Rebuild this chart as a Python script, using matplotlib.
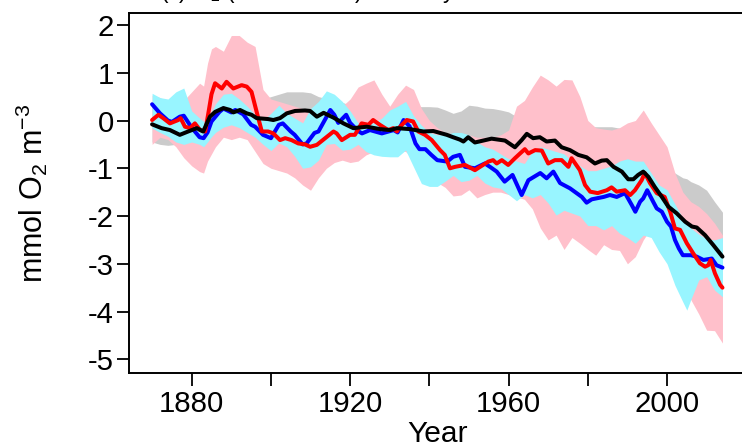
import matplotlib
matplotlib.use("Agg")
import matplotlib.pyplot as plt
import numpy as np

plt.rcParams['font.family'] = ['Liberation Sans', 'DejaVu Sans']
plt.rcParams['mathtext.fontset'] = 'custom'
plt.rcParams['mathtext.rm'] = 'Liberation Sans'
plt.rcParams['mathtext.it'] = 'Liberation Sans:italic'
plt.rcParams['mathtext.bf'] = 'Liberation Sans:bold'

# ---------------- data ----------------
blue_years = [1870, 1872, 1874, 1875, 1877, 1878, 1880, 1882, 1883, 1884, 1885, 1887, 1888, 1890, 1891,
              1893, 1895, 1896, 1898, 1900, 1902, 1903, 1905, 1906, 1908, 1909, 1911, 1912, 1915, 1916,
              1917, 1919, 1920, 1922, 1923, 1925, 1928, 1931, 1932, 1933.5, 1935, 1936.5, 1937.5, 1939,
              1940.5, 1942, 1944.5, 1946, 1947.7, 1949, 1951.5, 1954, 1955.3, 1957, 1959, 1961, 1963.3,
              1965, 1968, 1969.6, 1971.3, 1973, 1975.5, 1978.5, 1979.7, 1981, 1984, 1985.6, 1987.3,
              1989.4, 1991.1, 1992, 1993.2, 1994, 1995, 1996.5, 1997.4, 1998.7, 2000, 2001, 2002, 2003,
              2004, 2006, 2007.5, 2009.2, 2011.3, 2012.5, 2014]
blue_vals = [0.34, 0.15, 0.0, -0.03, 0.08, 0.10, -0.15, -0.35, -0.37, -0.25, -0.02, 0.18, 0.25, 0.17, 0.22,
             0.13, -0.09, -0.13, -0.30, -0.37, -0.09, -0.06, -0.23, -0.30, -0.50, -0.48, -0.26, -0.23, 0.22, 0.12,
             -0.05, 0.12, -0.05, -0.22, -0.27, -0.20, -0.27, -0.20, -0.25, 0.01, -0.12, -0.48, -0.60, -0.60,
             -0.72, -0.83, -0.86, -0.76, -0.72, -0.97, -1.00, -0.90, -0.97, -1.07, -1.28, -1.14, -1.56,
             -1.25, -1.10, -1.21, -1.07, -1.31, -1.42, -1.60, -1.72, -1.65, -1.60, -1.56, -1.60,
             -1.52, -1.77, -1.91, -1.70, -1.63, -1.46, -1.70, -1.84, -1.91, -2.12, -2.22, -2.50, -2.68,
             -2.82, -2.82, -2.85, -2.92, -2.89, -3.03, -3.08]

red_years = [1870, 1871.6, 1872.8, 1874.5, 1876.6, 1877.2, 1878.3, 1879.6, 1880.8, 1882.1, 1883.4, 1884.3,
             1885, 1885.9, 1887.6, 1888.8, 1890.5, 1892.6, 1893.9, 1895.1, 1896.4, 1897.7, 1899.3, 1900.6,
             1902.3, 1903.6, 1905.2, 1906.9, 1908.6, 1909.9, 1911.6, 1913.7, 1915.8, 1916.6, 1917.9, 1920,
             1921.2, 1922.9, 1924.6, 1925.8, 1927.5, 1929.6, 1930.9, 1931.8, 1932.6, 1934.3, 1935.9, 1937.2,
             1938.9, 1940.6, 1942.7, 1943.9, 1945.2, 1946.5, 1949, 1951.5, 1952.8, 1954.9, 1956.1, 1957,
             1958.3, 1959.9, 1961.6, 1962.9, 1964.1, 1965, 1966.7, 1968.4, 1970, 1971.7, 1973.4, 1975.1,
             1975.9, 1978, 1979.3, 1980.6, 1982.5, 1984.8, 1986, 1987.3, 1989.4, 1990.7, 1991.9, 1993.6,
             1994.4, 1995.7, 1997.4, 1999.4, 2000.8, 2002, 2003.3, 2005, 2006.6, 2008.3, 2009.6, 2010.4,
             2011, 2012.1, 2013.4, 2014]
red_vals = [0.01, 0.12, 0.05, -0.06, 0.01, 0.05, -0.13, -0.16, -0.06, -0.20, -0.23, 0.20,
            0.55, 0.78, 0.67, 0.81, 0.67, 0.74, 0.71, 0.60, 0.18, -0.23, -0.23, -0.27,
            -0.41, -0.37, -0.41, -0.48, -0.50, -0.55, -0.51, -0.37, -0.23, -0.27, -0.41, -0.30,
            -0.30, -0.06, -0.09, 0.01, -0.09, -0.20, -0.16, -0.23, -0.13, 0.01, -0.02, -0.23,
            -0.30, -0.41, -0.62, -0.72, -1.00, -0.97, -0.93, -1.04, -0.97, -0.86, -0.83, -0.90,
            -0.83, -0.93, -0.79, -0.69, -0.60, -0.69, -0.62, -0.63, -0.90, -0.83, -0.83, -0.97,
            -0.79, -1.04, -1.35, -1.49, -1.52, -1.46, -1.40, -1.49, -1.46, -1.56, -1.46, -1.25,
            -1.10, -1.31, -1.52, -1.60, -1.91, -2.26, -2.29, -2.57, -2.78, -2.99, -3.06, -3.03,
            -2.92, -3.20, -3.44, -3.50]

black_years = [1870, 1872.4, 1874.5, 1877, 1879.1, 1881.3, 1882.9, 1884.6, 1885.9, 1888, 1889.7, 1890.5,
               1892.2, 1893.9, 1895.1, 1896.4, 1899.3, 1900.6, 1902.3, 1904, 1906.1, 1908.6, 1909.9, 1911.6,
               1913.3, 1915.8, 1918.3, 1920.8, 1924.2, 1927.5, 1930.1, 1931.8, 1935.1, 1938.5, 1941, 1944.4,
               1946, 1947.7, 1948.6, 1949.8, 1951.5, 1953.6, 1955.7, 1959.1, 1961.6, 1963.3, 1964.6, 1966.2,
               1967.9, 1969.6, 1971.7, 1973.4, 1975.5, 1977.6, 1979.7, 1981.8, 1983.5, 1984.8, 1986.5, 1988.6,
               1990.2, 1991.5, 1992.7, 1994, 1995.3, 1996.9, 1998.7, 2000.3, 2002.4, 2004.6, 2006.3, 2007.5,
               2009.6, 2011.7, 2014]
black_vals = [-0.08, -0.16, -0.20, -0.30, -0.23, -0.16, -0.23, 0.08, 0.18, 0.26, 0.22, 0.17,
              0.22, 0.15, 0.12, 0.05, 0.03, 0.01, 0.05, 0.15, 0.20, 0.21, 0.20, 0.08,
              0.16, 0.06, -0.06, -0.16, -0.13, -0.18, -0.20, -0.16, -0.18, -0.23, -0.22, -0.30,
              -0.35, -0.40, -0.44, -0.35, -0.46, -0.42, -0.38, -0.42, -0.56, -0.41, -0.28, -0.37,
              -0.35, -0.44, -0.42, -0.56, -0.62, -0.72, -0.77, -0.90, -0.84, -0.83, -0.97, -1.07,
              -1.23, -1.23, -1.14, -1.07, -1.18, -1.39, -1.60, -1.80, -1.94, -2.12, -2.22, -2.24,
              -2.40, -2.61, -2.85]

band_years = [1870, 1872, 1874, 1876, 1878, 1880, 1882, 1883, 1884, 1885, 1886, 1888, 1890, 1892, 1894,
              1896, 1898, 1900, 1902, 1904, 1906, 1908, 1910, 1912, 1914, 1916, 1918, 1920, 1922, 1924,
              1926, 1928, 1930, 1932, 1934, 1936, 1938, 1940, 1942, 1944, 1946, 1948, 1950, 1952, 1954,
              1956, 1958, 1960, 1962, 1964, 1966, 1968, 1970, 1972, 1974, 1976, 1978, 1980, 1982, 1984,
              1986, 1988, 1990, 1992, 1994, 1996, 1998, 2000, 2002, 2004, 2005, 2006, 2008, 2010, 2012, 2014]

pink_hi = [0.53, 0.48, 0.38, 0.30, 0.42, 0.60, 0.78, 0.72, 1.20, 1.50, 1.55, 1.45, 1.78, 1.78, 1.64,
           1.55, 0.65, 0.45, 0.40, 0.35, 0.30, 0.25, 0.25, 0.30, 0.35, 0.35, 0.30, 0.45, 0.70, 0.78,
           0.85, 0.55, 0.30, 0.55, 0.74, 0.65, 0.25, 0.00, -0.15, -0.25, -0.30, -0.30, -0.30, -0.35, -0.35,
           -0.35, -0.30, -0.20, 0.30, 0.42, 0.70, 0.95, 0.85, 0.72, 0.86, 0.85, 0.50, 0.00, -0.15, -0.18,
           -0.20, -0.15, -0.05, 0.00, 0.22, -0.05, -0.30, -0.55, -1.10, -1.50, -1.60, -1.70, -1.80, -1.95, -2.15, -2.40]
pink_lo = [-0.50, -0.35, -0.40, -0.55, -0.78, -0.95, -1.07, -1.10, -0.85, -0.70, -0.55, -0.35, -0.40, -0.35, -0.40,
           -0.65, -0.90, -1.00, -1.05, -1.10, -1.20, -1.35, -1.46, -1.20, -1.00, -0.88, -0.83, -0.88, -0.85, -0.72,
           -0.65, -0.60, -0.55, -0.62, -0.65, -0.80, -1.00, -1.20, -1.30, -1.40, -1.58, -1.56, -1.45, -1.62, -1.55,
           -1.50, -1.50, -1.55, -1.60, -1.65, -1.85, -2.25, -2.50, -2.40, -2.70, -2.45, -2.57, -2.70, -2.82, -2.60,
           -2.70, -2.72, -3.00, -2.85, -2.50, -2.25, -2.60, -2.90, -3.40, -3.50, -3.60, -3.75, -4.05, -4.39, -4.40, -4.66]

cyan_hi = [0.57, 0.48, 0.45, 0.60, 0.68, 0.20, 0.05, -0.02, 0.05, 0.18, 0.35, 0.55, 0.57, 0.45, 0.30,
           0.12, 0.00, 0.15, 0.32, 0.15, 0.05, -0.05, 0.25, 0.40, 0.62, 0.55, 0.40, 0.20, -0.05, -0.05,
           -0.05, 0.05, 0.22, 0.30, 0.40, 0.10, -0.10, -0.25, -0.30, -0.30, -0.25, -0.25, -0.30, -0.45, -0.55,
           -0.60, -0.70, -0.80, -0.85, -0.90, -0.65, -0.55, -0.60, -0.65, -0.70, -0.85, -0.95, -1.05, -1.05, -1.00,
           -0.95, -0.85, -0.80, -0.85, -0.85, -1.10, -1.35, -1.45, -1.75, -2.05, -2.15, -2.25, -2.38, -2.48, -2.50, -2.45]
cyan_lo = [-0.16, -0.25, -0.33, -0.45, -0.50, -0.45, -0.50, -0.55, -0.45, -0.34, -0.25, -0.14, -0.09, -0.15, -0.25,
           -0.35, -0.50, -0.63, -0.47, -0.55, -0.75, -1.00, -0.97, -0.83, -0.50, -0.48, -0.62, -0.60, -0.50, -0.65,
           -0.72, -0.75, -0.76, -0.76, -0.62, -0.97, -1.32, -1.38, -1.38, -1.27, -1.15, -1.28, -1.25, -1.15, -1.31,
           -1.39, -1.42, -1.55, -1.68, -1.55, -1.62, -1.55, -1.73, -1.98, -1.88, -1.94, -2.00, -2.20, -2.20, -2.29,
           -2.20, -2.36, -2.45, -2.57, -2.40, -2.45, -2.75, -3.00, -3.45, -3.80, -3.97, -3.75, -3.34, -3.27, -3.55, -3.69]

gray_hi = [0.30, 0.25, 0.20, 0.15, 0.15, 0.20, 0.20, 0.20, 0.40, 0.50, 0.55, 0.60, 0.60, 0.60, 0.55,
           0.50, 0.45, 0.50, 0.55, 0.60, 0.60, 0.60, 0.58, 0.50, 0.46, 0.43, 0.38, 0.32, 0.30, 0.30,
           0.30, 0.28, 0.28, 0.30, 0.30, 0.30, 0.29, 0.29, 0.28, 0.22, 0.15, 0.20, 0.32, 0.30, 0.26,
           0.25, 0.22, 0.18, 0.08, 0.00, -0.05, -0.05, -0.05, -0.05, -0.10, -0.10, -0.12, -0.13, -0.13, -0.13,
           -0.13, -0.16, -0.30, -0.40, -0.50, -0.60, -0.80, -0.98, -1.10, -1.20, -1.22, -1.28, -1.35, -1.46, -1.70, -1.92]
gray_lo = [-0.45, -0.50, -0.52, -0.50, -0.45, -0.50, -0.50, -0.50, -0.30, -0.20, -0.15, -0.10, -0.15, -0.15, -0.20,
           -0.25, -0.30, -0.30, -0.30, -0.25, -0.20, -0.20, -0.20, -0.25, -0.25, -0.30, -0.40, -0.50, -0.50, -0.50,
           -0.50, -0.55, -0.55, -0.55, -0.55, -0.60, -0.60, -0.60, -0.65, -0.70, -0.75, -0.80, -0.80, -0.85, -0.80,
           -0.80, -0.80, -0.85, -0.90, -0.75, -0.80, -0.80, -0.85, -0.90, -1.00, -1.05, -1.15, -1.20, -1.30, -1.25,
           -1.35, -1.45, -1.60, -1.55, -1.50, -1.75, -2.00, -2.20, -2.35, -2.50, -2.55, -2.60, -2.70, -2.85, -3.00, -3.20]

x_major = [1880, 1920, 1960, 2000]
x_all_ticks = [1880, 1900, 1920, 1940, 1960, 1980, 2000]
y_ticks = [-5, -4, -3, -2, -1, 0, 1, 2]

# ---------------- figure ----------------
W, H = 742, 445
fig = plt.figure(figsize=(W / 100, H / 100), dpi=100)
left, right, top, bottom = 129, 746, 12.7, 372.7
ax = fig.add_axes([left / W, 1 - bottom / H, (right - left) / W, (bottom - top) / H])

ax.fill_between(band_years, gray_lo, gray_hi, color='#CBCBCB', linewidth=0)
ax.fill_between(band_years, pink_lo, pink_hi, color='#FFC0CB', linewidth=0)
ax.fill_between(band_years, cyan_lo, cyan_hi, color='#98F5FF', linewidth=0)

kw = dict(linewidth=2.9, solid_joinstyle='round', solid_capstyle='round')
ax.plot(blue_years, blue_vals, color='#0000FF', **kw)
ax.plot(red_years, red_vals, color='#FF0000', **kw)
ax.plot(black_years, black_vals, color='#000000', **kw)

ax.set_xlim(1864.17, 2019.94)
ax.set_ylim(-5.28, 2.257)

ax.set_xticks(x_all_ticks)
ax.set_xticklabels([str(t) if t in x_major else '' for t in x_all_ticks])
ax.set_yticks(y_ticks)
ax.set_yticklabels([str(t) for t in y_ticks])

ax.tick_params(axis='both', direction='out', length=9, width=1.3, labelsize=21.2, colors='black')
ax.tick_params(axis='x', pad=3.5)
ax.tick_params(axis='y', pad=2)
for sp in ax.spines.values():
    sp.set_linewidth(1.4)
    sp.set_color('black')

fig.text(437.5 / W, 1 - 420 / H, 'Year', ha='center', va='top', fontsize=21.6)
fig.text(32 / W, 1 - 193 / H, r'mmol O$_\mathregular{2}$ m$^\mathregular{-3}$', rotation=90,
         ha='center', va='center', fontsize=22)
fig.text(160 / W, 1 + 2.5 / H, r'(c) O$_\mathregular{2}$ (100-1000 m) anomaly', ha='left',
         va='baseline', fontsize=16.3)

fig.savefig('out.png', dpi=100)
